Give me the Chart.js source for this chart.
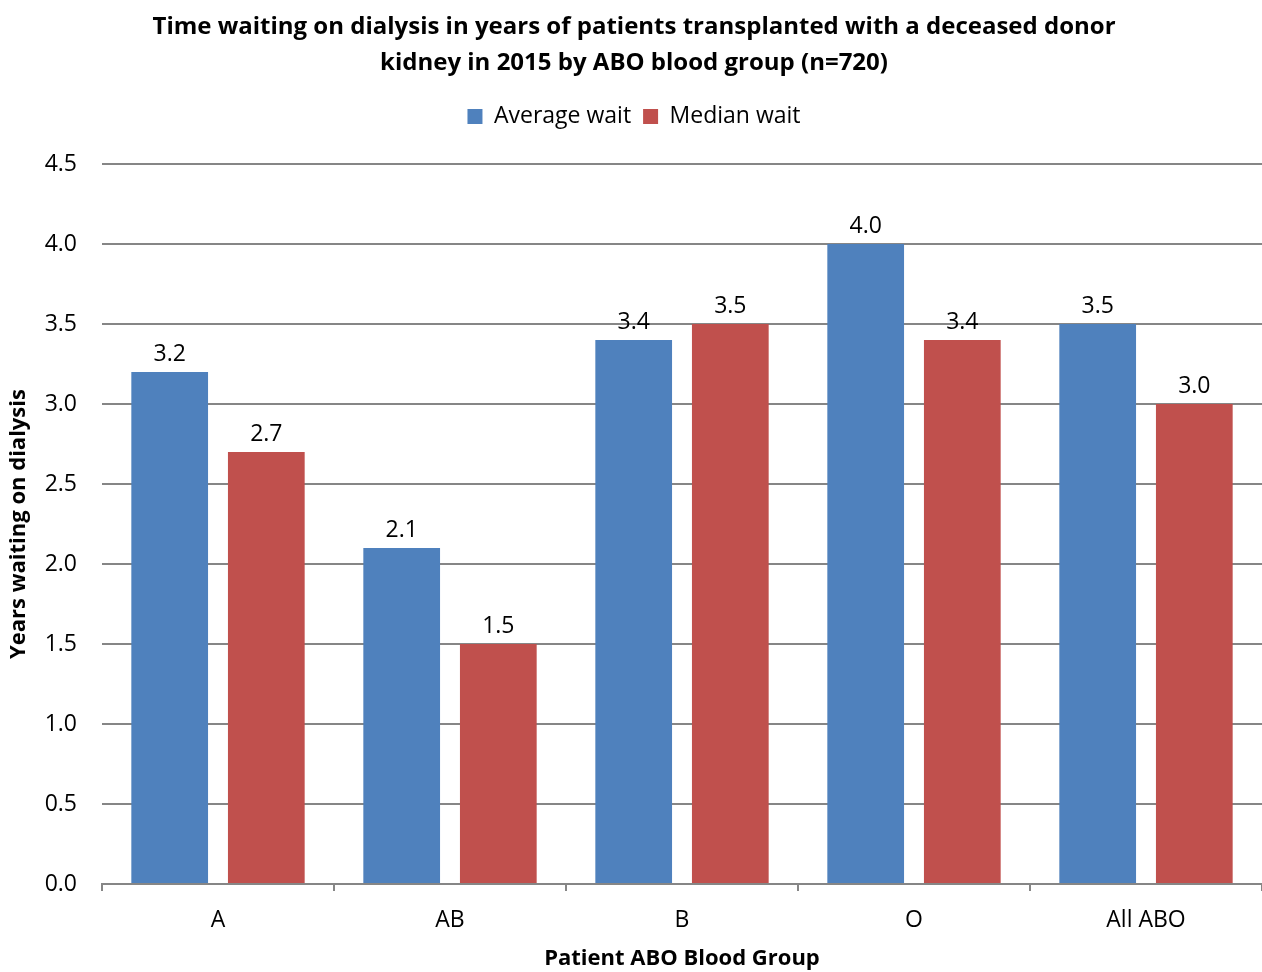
<!DOCTYPE html>
<html>
<head>
<meta charset="utf-8">
<script src="https://cdn.jsdelivr.net/npm/chart.js@4.4.0/dist/chart.umd.min.js"></script>
<style>
  body { margin: 0; background: #fff; }
  #wrap { width: 1262px; height: 972px; }
</style>
</head>
<body>
<div id="wrap"><canvas id="chart" width="1262" height="972"></canvas></div>
<script>
const groups = ['A', 'AB', 'B', 'O', 'All ABO'];
const averageWait = [3.2, 2.1, 3.4, 4.0, 3.5];
const medianWait = [2.7, 1.5, 3.5, 3.4, 3.0];
const yTicks = [0, 0.5, 1, 1.5, 2, 2.5, 3, 3.5, 4, 4.5];

const FONT = "'Open Sans', 'Liberation Sans', sans-serif";

// draw the value on top of each bar
const barValues = {
  id: 'barValues',
  afterDatasetsDraw(chart) {
    const ctx = chart.ctx;
    ctx.save();
    ctx.font = '23px ' + FONT;
    ctx.fillStyle = '#000';
    ctx.textAlign = 'center';
    ctx.textBaseline = 'bottom';
    chart.data.datasets.forEach((ds, i) => {
      chart.getDatasetMeta(i).data.forEach((bar, j) => {
        ctx.fillText(ds.data[j].toFixed(1), bar.x, bar.y - 6);
      });
    });
    ctx.restore();
  }
};

// leave extra room under the legend
const legendGap = {
  id: 'legendGap',
  beforeInit(chart) {
    const fit = chart.legend.fit;
    chart.legend.fit = function () {
      fit.call(this);
      this.height += 26;
    };
  }
};

new Chart(document.getElementById('chart'), {
  type: 'bar',
  data: {
    labels: groups,
    datasets: [{
      label: 'Average wait',
      data: averageWait,
      backgroundColor: '#4f81bd',
      categoryPercentage: 0.833,
      barPercentage: 0.794
    }, {
      label: 'Median wait',
      data: medianWait,
      backgroundColor: '#c0504d',
      categoryPercentage: 0.833,
      barPercentage: 0.794
    }]
  },
  options: {
    responsive: false,
    animation: false,
    layout: { padding: { left: 6, right: 0, top: 9, bottom: 0 } },
    plugins: {
      title: {
        display: true,
        text: ['Time waiting on dialysis in years of patients transplanted with a deceased donor',
               'kidney in 2015 by ABO blood group (n=720)'],
        color: '#000',
        font: { family: FONT, size: 24, weight: 'bold', lineHeight: 1.5 },
        padding: { top: 0, bottom: 12 }
      },
      legend: {
        display: true,
        labels: {
          color: '#000',
          font: { family: FONT, size: 23 },
          boxWidth: 15,
          boxHeight: 15,
          padding: 12
        }
      },
      tooltip: { enabled: false }
    },
    scales: {
      x: {
        afterFit: axis => { axis.height = 88; },
        grid: {
          offset: true,
          drawOnChartArea: false,
          color: '#868686',
          tickLength: 7,
          lineWidth: 2
        },
        border: { color: '#868686', width: 2 },
        ticks: { color: '#000', font: { family: FONT, size: 23 }, padding: 16 },
        title: {
          display: true,
          text: 'Patient ABO Blood Group',
          color: '#000',
          font: { family: FONT, size: 22, weight: 'bold' },
          padding: { top: 0, bottom: 0 }
        }
      },
      y: {
        min: 0,
        max: 4.5,
        afterBuildTicks: axis => { axis.ticks = yTicks.map(v => ({ value: v })); },
        afterFit: axis => { axis.width = 96; },
        grid: { color: '#868686', lineWidth: 2, drawTicks: false },
        border: { display: false },
        ticks: {
          color: '#000',
          font: { family: FONT, size: 23 },
          padding: 25,
          callback: v => Number(v).toFixed(1)
        },
        title: {
          display: true,
          text: 'Years waiting on dialysis',
          color: '#000',
          font: { family: FONT, size: 22, weight: 'bold' },
          padding: { top: 0, bottom: 9 }
        }
      }
    }
  },
  plugins: [barValues, legendGap]
});
</script>
</body>
</html>
